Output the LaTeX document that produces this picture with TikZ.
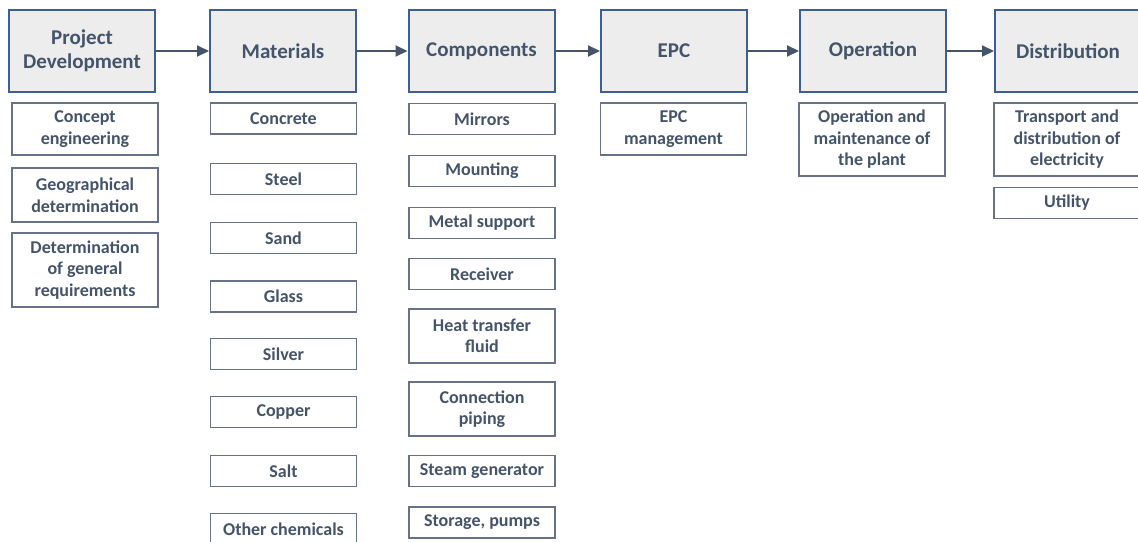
\documentclass[tikz,border=0pt]{standalone}
\usepackage{fontspec}
\setmainfont{Carlito}
\usetikzlibrary{arrows.meta}
\definecolor{txtslate}{HTML}{44546A}
\definecolor{headfill}{HTML}{EDEDED}
\definecolor{headline}{HTML}{3E5F95}
\definecolor{itemline}{HTML}{66728A}
\tikzset{
  stage/.style={draw=headline, line width=2pt, fill=headfill, text=txtslate,
    minimum width=146pt, minimum height=82pt, inner sep=0pt, align=center,
    font=\bfseries\fontsize{21}{24}\selectfont},
  item/.style={draw=itemline, line width=1.1pt, fill=white, text=txtslate,
    minimum width=146pt, minimum height=31pt, inner sep=0pt, align=center,
    font=\bfseries\fontsize{18}{21.5}\selectfont},
  flow/.style={draw=txtslate, line width=2pt, -{Triangle[length=12pt,width=11pt]}}
}
\begin{document}
\begin{tikzpicture}[x=1pt, y=-1pt]
      \useasboundingbox (0, 0) rectangle (1138, 541);
      \clip (0, 0) rectangle (1138, 541);

      % value chain stages
      \node [stage] (pd)   at (82, 51)   {Project\\Development};
      \node [stage] (mat)  at (283, 51)  {Materials};
      \node [stage] (comp) at (481.5, 51) {Components};
      \node [stage] (epc)  at (674, 51)  {EPC};
      \node [stage] (op)   at (873, 51)  {Operation};
      \node [stage] (dist) at (1068, 51) {Distribution};

      \draw [flow] (pd) -- (mat);
      \draw [flow] (mat) -- (comp);
      \draw [flow] (comp) -- (epc);
      \draw [flow] (epc) -- (op);
      \draw [flow] (op) -- (dist);

      % project development
      \node [item, minimum height=52pt] (concept) at (85, 129) {Concept\\engineering};
      \node [item, minimum height=54pt] (geo) at (85, 195) {Geographical\\determination};
      \node [item, minimum height=74pt] (req) at (85, 270) {Determination\\of general\\requirements};

      % materials
      \node [item] (concrete) at (283.5, 118.5) {Concrete};
      \node [item] (steel)    at (283.5, 179)   {Steel};
      \node [item] (sand)     at (283.5, 238)   {Sand};
      \node [item] (glass)    at (283.5, 296.5) {Glass};
      \node [item] (silver)   at (283.5, 354)   {Silver};
      \node [item] (copper)   at (283.5, 412)   {Copper};
      \node [item] (salt)     at (283.5, 471)   {Salt};
      \node [item] (other)    at (283.5, 529)   {Other chemicals};

      % components
      \node [item] (mirrors)  at (482, 119) {Mirrors};
      \node [item] (mounting) at (482, 171) {Mounting};
      \node [item] (metal)    at (482, 223) {Metal support};
      \node [item] (receiver) at (482, 274) {Receiver};
      \node [item, minimum height=54pt] (htf)  at (482, 336) {Heat transfer\\fluid};
      \node [item, minimum height=54pt] (pipe) at (482, 409) {Connection\\piping};
      \node [item] (steam)    at (482, 471)   {Steam generator};
      \node [item] (storage)  at (482, 522.5) {Storage, pumps};

      % epc, operation, distribution
      \node [item, minimum height=52pt] (epcman) at (673.5, 129) {EPC\\management};
      \node [item, minimum height=73pt] (om) at (872, 139.5) {Operation and\\maintenance of\\the plant};
      \node [item, minimum height=73pt] (trans) at (1067, 139.5) {Transport and\\distribution of\\electricity};
      \node [item] (utility) at (1067, 203) {Utility};
    \end{tikzpicture}
\end{document}
